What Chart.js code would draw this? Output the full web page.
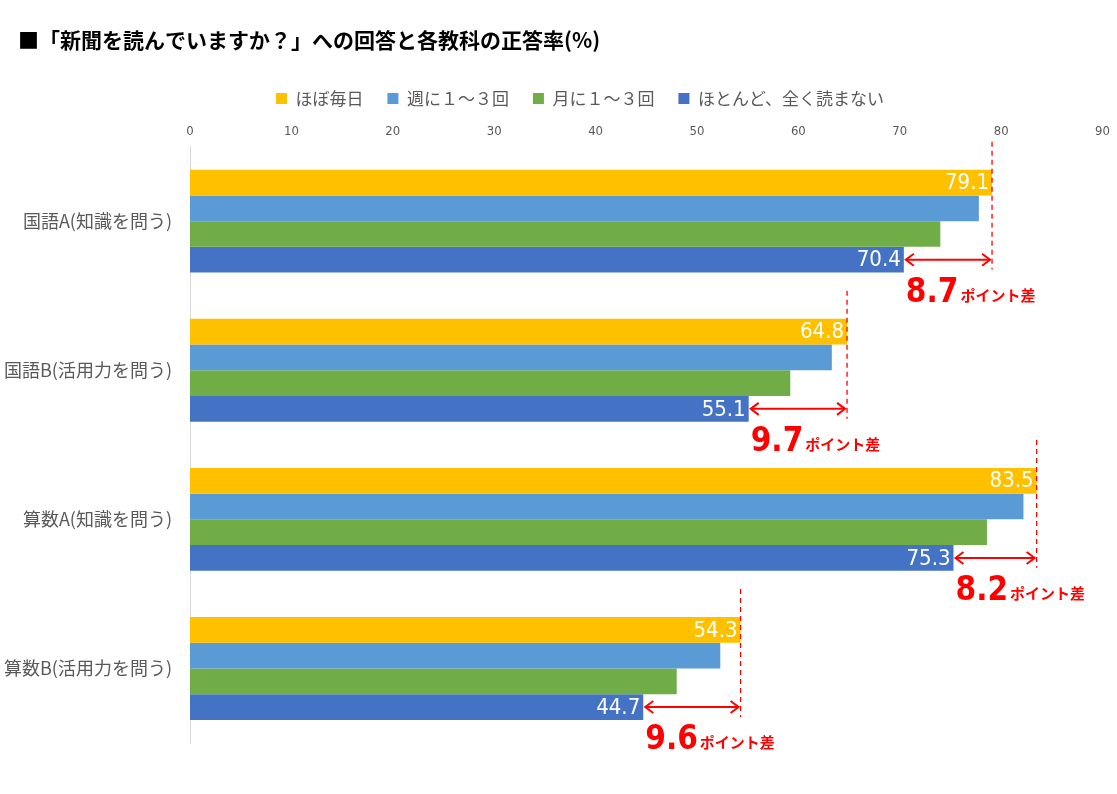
<!DOCTYPE html>
<html>
<head>
<meta charset="utf-8">
<script src="https://cdn.jsdelivr.net/npm/chart.js@4"></script>
<style>
  html, body { margin: 0; padding: 0; background: #fff; }
  #wrap { width: 1117px; height: 794px; }
</style>
</head>
<body>
<div id="wrap"><canvas id="c" width="1117" height="794"></canvas></div>
<script>
const title = '■「新聞を読んでいますか？」への回答と各教科の正答率(%)';
const categories = ['国語A(知識を問う)', '国語B(活用力を問う)', '算数A(知識を問う)', '算数B(活用力を問う)'];
const seriesNames = ['ほぼ毎日', '週に１～３回', '月に１～３回', 'ほとんど、全く読まない'];
const daily   = [79.1, 64.8, 83.5, 54.3];
const weekly  = [77.8, 63.3, 82.2, 52.3];
const monthly = [74.0, 59.2, 78.6, 48.0];
const rarely  = [70.4, 55.1, 75.3, 44.7];
const colors = ['#FFC000', '#5B9BD5', '#70AD47', '#4472C4'];

const narrow = '"Liberation Sans Narrow", "DejaVu Sans Condensed", sans-serif';
const jp = '"Noto Sans CJK JP", "Noto Sans", sans-serif';

// title sits at the left margin, legend is a bit right of centre
const heading = {
  id: 'heading',
  afterLayout(chart) {
    chart.legend.left += 28;
    chart.legend.right += 28;
  },
  afterDraw(chart) {
    const ctx = chart.ctx;
    ctx.save();
    ctx.fillStyle = '#000';
    ctx.font = 'bold 21px ' + jp;
    ctx.textAlign = 'left';
    ctx.textBaseline = 'middle';
    ctx.fillText(title, 18, 40);
    ctx.restore();
  }
};

// white value labels on the first and last bar of each group, plus the red gap markers
const gapMarks = {
  id: 'gapMarks',
  afterDatasetsDraw(chart) {
    const ctx = chart.ctx;
    const x = chart.scales.x;
    const top = chart.getDatasetMeta(0).data;
    const bot = chart.getDatasetMeta(3).data;
    ctx.save();
    [[0, daily], [3, rarely]].forEach(([di, vals]) => {
      chart.getDatasetMeta(di).data.forEach((b, j) => {
        ctx.fillStyle = '#fff';
        ctx.font = '22px ' + narrow;
        ctx.textAlign = 'right';
        ctx.textBaseline = 'middle';
        ctx.fillText(vals[j].toFixed(1), b.x - 3, b.y + 1);
      });
    });
    categories.forEach((c, j) => {
      const xTop = x.getPixelForValue(daily[j]);
      const xBot = x.getPixelForValue(rarely[j]);
      const t = top[j], b = bot[j];
      ctx.strokeStyle = '#FF0000';
      ctx.lineWidth = 1.3;
      ctx.setLineDash([5, 4]);
      ctx.beginPath();
      ctx.moveTo(xTop, t.y - t.height / 2 - 28);
      ctx.lineTo(xTop, b.y + b.height / 2 - 3);
      ctx.stroke();
      ctx.setLineDash([]);
      // double arrow
      const ay = b.y;
      ctx.lineWidth = 2;
      ctx.beginPath();
      ctx.moveTo(xBot + 2, ay);
      ctx.lineTo(xTop - 2, ay);
      ctx.stroke();
      ctx.beginPath();
      ctx.moveTo(xBot + 10, ay - 6); ctx.lineTo(xBot + 2, ay); ctx.lineTo(xBot + 10, ay + 6);
      ctx.moveTo(xTop - 10, ay - 6); ctx.lineTo(xTop - 2, ay); ctx.lineTo(xTop - 10, ay + 6);
      ctx.stroke();
      // gap label
      const base = b.y + b.height / 2 + 29;
      const num = (daily[j] - rarely[j]).toFixed(1);
      ctx.fillStyle = '#FF0000';
      ctx.textAlign = 'left';
      ctx.textBaseline = 'alphabetic';
      ctx.font = 'bold 33px ' + narrow;
      ctx.fillText(num, xBot + 2, base);
      const w = ctx.measureText(num).width;
      ctx.font = 'bold 15px ' + jp;
      ctx.fillText('ポイント差', xBot + w + 4, base - 1);
    });
    ctx.restore();
  }
};

new Chart(document.getElementById('c'), {
  type: 'bar',
  data: {
    labels: categories,
    datasets: [daily, weekly, monthly, rarely].map((arr, i) => ({
      label: seriesNames[i], data: arr, backgroundColor: colors[i],
      categoryPercentage: 0.69, barPercentage: 1.0,
    })),
  },
  options: {
    indexAxis: 'y',
    responsive: false,
    animation: false,
    layout: { padding: { top: 66, left: 0, right: 13, bottom: 51 } },
    scales: {
      x: {
        position: 'top', min: 0, max: 90,
        ticks: { stepSize: 10, color: '#595959', font: { family: narrow, size: 13 }, padding: 7 },
        grid: { display: false, drawTicks: false },
        border: { display: false },
      },
      y: {
        afterFit(s) { s.width = 190; },
        ticks: { color: '#595959', font: { family: jp, size: 18 }, padding: 18 },
        grid: { display: false, drawTicks: false },
        border: { display: true, color: '#D9D9D9' },
      },
    },
    plugins: {
      legend: {
        position: 'top',
        labels: { boxWidth: 11, boxHeight: 11, color: '#595959', font: { family: jp, size: 17 }, padding: 24 },
      },
      tooltip: { enabled: false },
    },
  },
  plugins: [gapMarks, heading],
});
</script>
</body>
</html>
